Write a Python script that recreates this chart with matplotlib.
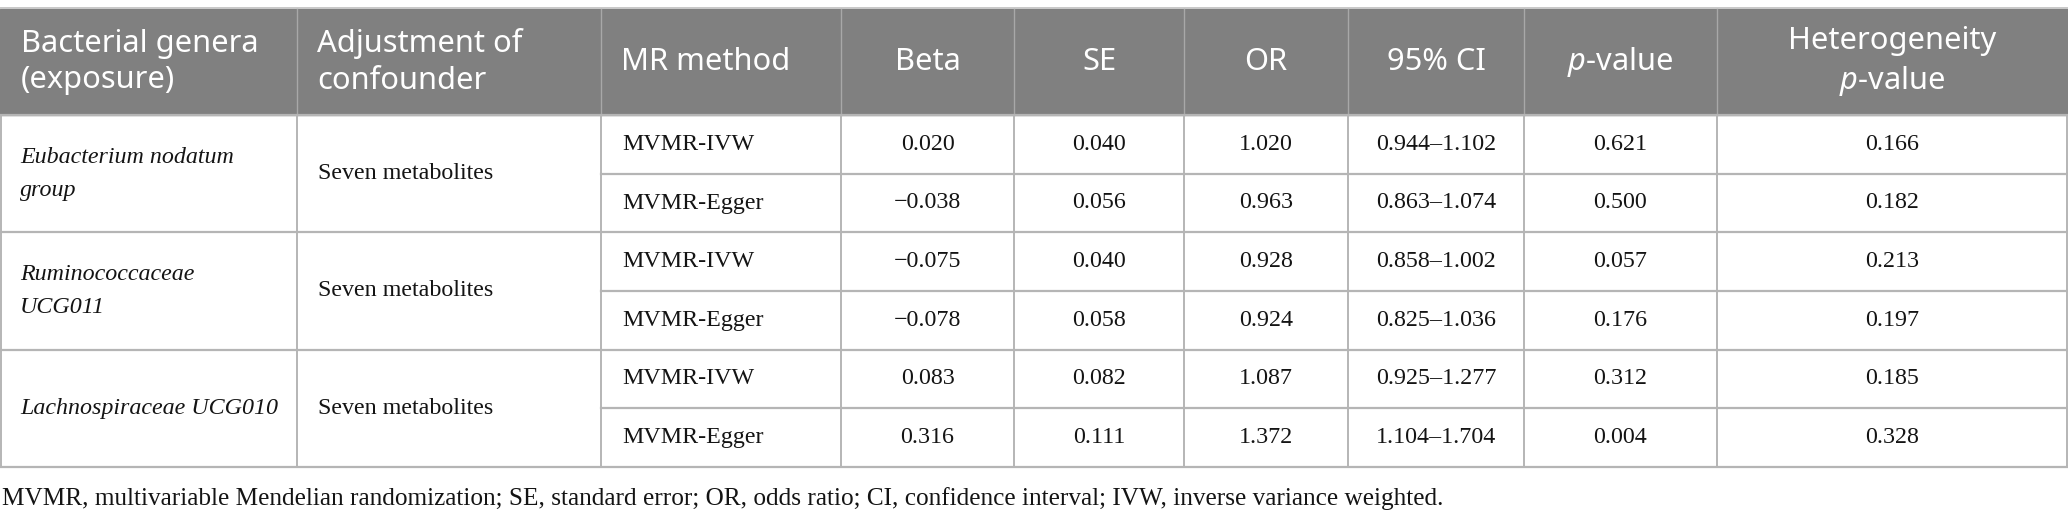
import matplotlib
matplotlib.use("Agg")
import matplotlib.pyplot as plt
from matplotlib.patches import Rectangle

plt.rcParams['mathtext.fontset'] = 'custom'
plt.rcParams['mathtext.rm'] = 'Noto Sans'
plt.rcParams['mathtext.it'] = 'Noto Sans:italic'

# table content
headers = ['Bacterial genera\n(exposure)', 'Adjustment of\nconfounder', 'MR method',
           'Beta', 'SE', 'OR', '95% CI', '$p$-value', 'Heterogeneity\n$p$-value']
genera = ['Eubacterium nodatum\ngroup', 'Ruminococcaceae\nUCG011', 'Lachnospiraceae UCG010']
adjustment = ['Seven metabolites', 'Seven metabolites', 'Seven metabolites']
methods = ['MVMR-IVW', 'MVMR-Egger'] * 3
beta = ['0.020', '\u22120.038', '\u22120.075', '\u22120.078', '0.083', '0.316']
se = ['0.040', '0.056', '0.040', '0.058', '0.082', '0.111']
odds = ['1.020', '0.963', '0.928', '0.924', '1.087', '1.372']
ci = ['0.944\u20131.102', '0.863\u20131.074', '0.858\u20131.002',
      '0.825\u20131.036', '0.925\u20131.277', '1.104\u20131.704']
pval = ['0.621', '0.500', '0.057', '0.176', '0.312', '0.004']
het_p = ['0.166', '0.182', '0.213', '0.197', '0.185', '0.328']
footnote = ('MVMR, multivariable Mendelian randomization; SE, standard error; OR, odds ratio; '
            'CI, confidence interval; IVW, inverse variance weighted.')

# layout (pixels)
W, H = 2068, 524
col_edges = [1, 297, 601, 841, 1014, 1184, 1348, 1524, 1717, 2067]
head_top, head_bot = 9, 115
row_h = (467 - head_bot) / 6
pad = 21
grid = '#b5b5b5'
head_bg = '#808080'
ink = '#141414'
serif = 'Liberation Serif'
sans = 'Noto Sans'

fig = plt.figure(figsize=(W / 100, H / 100), dpi=100)
ax = fig.add_axes([0, 0, 1, 1])
ax.set_xlim(0, W)
ax.set_ylim(H, 0)
ax.axis('off')

# header
ax.add_patch(Rectangle((0, head_top), W, head_bot - head_top, color=head_bg, zorder=0))
ax.plot([0, W], [head_top - 1, head_top - 1], color='#c8c8c8', lw=1.4)
for x in col_edges[1:-1]:
    ax.plot([x, x], [head_top, head_bot], color='#a8a8a8', lw=1.0)
hy = (head_top + head_bot) / 2
for i, h in enumerate(headers):
    if i < 3:
        ax.text(col_edges[i] + pad - 1, hy, h, ha='left', va='center', color='white',
                family=sans, fontsize=22.2, linespacing=1.28)
    else:
        ax.text((col_edges[i] + col_edges[i + 1]) / 2, hy, h, ha='center', va='center',
                color='white', family=sans, fontsize=22.2, linespacing=1.28,
                multialignment='center')

# body grid
row_lines = [head_bot + k * row_h for k in range(7)]
for k, y in enumerate(row_lines):
    if k % 2 == 0:
        ax.plot([0, W], [y, y], color=grid, lw=1.6)
    else:
        ax.plot([col_edges[2], W], [y, y], color=grid, lw=1.6)
for x in col_edges:
    ax.plot([x, x], [head_bot, row_lines[-1]], color=grid, lw=1.4)

# group cells
for g in range(3):
    yc = head_bot + (2 * g + 1) * row_h
    ax.text(col_edges[0] + pad - 2, yc, genera[g], ha='left', va='center', family=serif,
            style='italic', fontsize=17.3, linespacing=1.75, color=ink)
    ax.text(col_edges[1] + pad, yc, adjustment[g], ha='left', va='center', family=serif,
            fontsize=17.3, color=ink)

# rows
columns = [beta, se, odds, ci, pval, het_p]
for r in range(6):
    yc = head_bot + (r + 0.5) * row_h
    ax.text(col_edges[2] + pad, yc, methods[r], ha='left', va='center', family=serif,
            fontsize=17.3, color=ink)
    for c, vals in enumerate(columns):
        xc = (col_edges[c + 3] + col_edges[c + 4]) / 2
        ax.text(xc, yc, vals[r], ha='center', va='center', family=serif,
                fontsize=17.3, color=ink)

ax.text(2, 499, footnote, ha='left', va='center', family=serif, fontsize=18.2, color=ink)

fig.savefig('out.png', dpi=100)
